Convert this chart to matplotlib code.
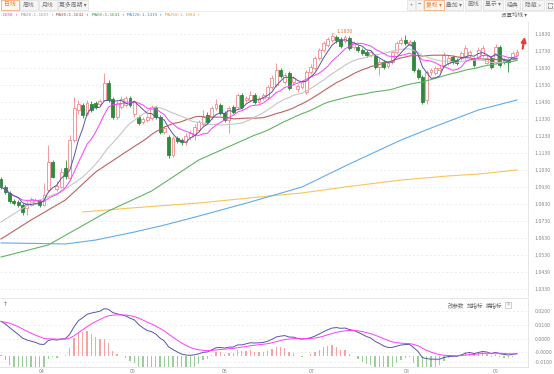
import matplotlib
matplotlib.use("Agg")
import matplotlib.pyplot as plt
from matplotlib.patches import Rectangle
from matplotlib.lines import Line2D
import numpy as np
import pandas as pd

plt.rcParams["font.family"] = ["Noto Sans CJK SC", "DejaVu Sans"]
plt.rcParams["axes.unicode_minus"] = False

# ── 日K数据 ──────────────────────────────────────
opens = [1.0977, 1.0930, 1.0895, 1.0848, 1.0842, 1.0824, 1.0806, 1.0824, 1.0836, 1.0848,
         1.0824, 1.0912, 1.1077, 1.0918, 1.0930, 1.1042, 1.0983, 1.1206, 1.1383, 1.1412,
         1.1359, 1.1418, 1.1424, 1.1418, 1.1442, 1.1542, 1.1448, 1.1342, 1.1401, 1.1412,
         1.1454, 1.1359, 1.1342, 1.1312, 1.1324, 1.1336, 1.1401, 1.1342, 1.1254, 1.1224,
         1.1118, 1.1218, 1.1206, 1.1195, 1.1224, 1.1236, 1.1265, 1.1301, 1.1354, 1.1342,
         1.1395, 1.1412, 1.1365, 1.1324, 1.1401, 1.1401, 1.1471, 1.1442, 1.1442, 1.1471,
         1.1430, 1.1454, 1.1459, 1.1518, 1.1530, 1.1618, 1.1548, 1.1601, 1.1548, 1.1506,
         1.1518, 1.1489, 1.1606, 1.1630, 1.1689, 1.1736, 1.1765, 1.1795, 1.1812, 1.1801,
         1.1789, 1.1806, 1.1754, 1.1754, 1.1736, 1.1724, 1.1706, 1.1701, 1.1636, 1.1665,
         1.1642, 1.1665, 1.1724, 1.1777, 1.1795, 1.1765, 1.1783, 1.1618, 1.1577, 1.1442,
         1.1606, 1.1601, 1.1618, 1.1648, 1.1659, 1.1695, 1.1677, 1.1689, 1.1695, 1.1706,
         1.1683, 1.1695, 1.1706, 1.1659, 1.1689, 1.1665, 1.1754, 1.1677, 1.1677, 1.1689,
         1.1706]
closes = [1.0930, 1.0901, 1.0848, 1.0836, 1.0824, 1.0783, 1.0836, 1.0859, 1.0854, 1.0824,
          1.0883, 1.1077, 1.0989, 1.0936, 1.1018, 1.0995, 1.1206, 1.1395, 1.1418, 1.1354,
          1.1424, 1.1383, 1.1401, 1.1436, 1.1542, 1.1442, 1.1342, 1.1424, 1.1448, 1.1454,
          1.1412, 1.1430, 1.1306, 1.1330, 1.1342, 1.1401, 1.1342, 1.1254, 1.1277, 1.1118,
          1.1218, 1.1201, 1.1195, 1.1230, 1.1248, 1.1283, 1.1312, 1.1342, 1.1312, 1.1395,
          1.1418, 1.1365, 1.1324, 1.1395, 1.1371, 1.1471, 1.1401, 1.1454, 1.1471, 1.1430,
          1.1454, 1.1471, 1.1518, 1.1571, 1.1618, 1.1583, 1.1589, 1.1512, 1.1571, 1.1524,
          1.1548, 1.1606, 1.1636, 1.1689, 1.1736, 1.1777, 1.1800, 1.1818, 1.1795, 1.1759,
          1.1812, 1.1748, 1.1777, 1.1736, 1.1718, 1.1706, 1.1724, 1.1636, 1.1665, 1.1636,
          1.1659, 1.1724, 1.1777, 1.1795, 1.1777, 1.1783, 1.1618, 1.1577, 1.1430, 1.1606,
          1.1618, 1.1630, 1.1630, 1.1706, 1.1689, 1.1665, 1.1659, 1.1718, 1.1748, 1.1724,
          1.1648, 1.1736, 1.1748, 1.1689, 1.1636, 1.1754, 1.1648, 1.1665, 1.1665, 1.1718,
          1.1724]
highs = [1.0989, 1.0942, 1.0906, 1.0859, 1.0854, 1.0836, 1.0848, 1.0871, 1.0865, 1.0859,
         1.0954, 1.1177, 1.1089, 1.0965, 1.1042, 1.1089, 1.1236, 1.1459, 1.1442, 1.1424,
         1.1442, 1.1436, 1.1436, 1.1448, 1.1601, 1.1559, 1.1459, 1.1436, 1.1465, 1.1465,
         1.1465, 1.1442, 1.1354, 1.1342, 1.1359, 1.1412, 1.1406, 1.1354, 1.1289, 1.1236,
         1.1230, 1.1230, 1.1218, 1.1248, 1.1265, 1.1301, 1.1324, 1.1383, 1.1371, 1.1406,
         1.1448, 1.1424, 1.1377, 1.1406, 1.1412, 1.1483, 1.1483, 1.1465, 1.1495, 1.1483,
         1.1465, 1.1483, 1.1530, 1.1589, 1.1659, 1.1630, 1.1601, 1.1612, 1.1583, 1.1536,
         1.1559, 1.1618, 1.1654, 1.1701, 1.1748, 1.1789, 1.1812, 1.1830, 1.1824, 1.1812,
         1.1824, 1.1818, 1.1789, 1.1765, 1.1748, 1.1736, 1.1736, 1.1712, 1.1689, 1.1677,
         1.1671, 1.1736, 1.1789, 1.1812, 1.1824, 1.1795, 1.1795, 1.1630, 1.1589, 1.1618,
         1.1630, 1.1642, 1.1648, 1.1724, 1.1706, 1.1706, 1.1689, 1.1730, 1.1765, 1.1736,
         1.1695, 1.1754, 1.1765, 1.1706, 1.1701, 1.1771, 1.1765, 1.1689, 1.1689, 1.1730,
         1.1742]
lows = [1.0918, 1.0889, 1.0836, 1.0824, 1.0812, 1.0765, 1.0765, 1.0818, 1.0830, 1.0812,
        1.0818, 1.0901, 1.0983, 1.0906, 1.0924, 1.0977, 1.0971, 1.1195, 1.1359, 1.1336,
        1.1348, 1.1371, 1.1389, 1.1412, 1.1436, 1.1430, 1.1330, 1.1330, 1.1389, 1.1401,
        1.1401, 1.1342, 1.1295, 1.1301, 1.1312, 1.1324, 1.1330, 1.1242, 1.1242, 1.1101,
        1.1107, 1.1189, 1.1177, 1.1177, 1.1206, 1.1206, 1.1254, 1.1289, 1.1301, 1.1330,
        1.1383, 1.1354, 1.1312, 1.1248, 1.1359, 1.1389, 1.1389, 1.1430, 1.1436, 1.1418,
        1.1424, 1.1442, 1.1448, 1.1506, 1.1518, 1.1571, 1.1536, 1.1501, 1.1536, 1.1489,
        1.1506, 1.1477, 1.1595, 1.1618, 1.1677, 1.1724, 1.1754, 1.1783, 1.1777, 1.1745,
        1.1777, 1.1736, 1.1742, 1.1724, 1.1706, 1.1695, 1.1695, 1.1624, 1.1589, 1.1624,
        1.1630, 1.1654, 1.1712, 1.1765, 1.1765, 1.1759, 1.1606, 1.1565, 1.1418, 1.1418,
        1.1589, 1.1589, 1.1606, 1.1636, 1.1648, 1.1654, 1.1648, 1.1677, 1.1683, 1.1695,
        1.1636, 1.1683, 1.1695, 1.1654, 1.1624, 1.1654, 1.1636, 1.1654, 1.1606, 1.1677,
        1.1701]

# 均线在窗口起点之前的部分 (图上读取: K线序号, 数值), 之后由收盘价计算
ma20_head_idx = [0, 7, 14]
ma20_head_val = [1.0724, 1.0836, 1.0901]
ma30_head_idx = [0, 7, 15, 22]
ma30_head_val = [1.0624, 1.0736, 1.0854, 1.1018]
ma60_head_idx = [0, 11, 25, 35, 46]
ma60_head_val = [1.0518, 1.0589, 1.0789, 1.0906, 1.1089]
# 长周期均线 (整段图上读取)
ma120_idx = [0, 8, 15, 22, 31, 38, 46, 58, 70, 81, 93, 100, 111, 120]
ma120_val = [1.0601, 1.0598, 1.0595, 1.0618, 1.0665, 1.0706, 1.0759, 1.0842, 1.0930, 1.1065,
             1.1206, 1.1277, 1.1383, 1.1442]
ma250_idx = [19, 30, 46, 60, 70, 80, 93, 104, 111, 120]
ma250_val = [1.0783, 1.0806, 1.0836, 1.0871, 1.0895, 1.0930, 1.0971, 1.0995, 1.1006, 1.1030]

# MACD 起始状态 (窗口之前的 EMA)
EMA12_START = 1.0905
EMA26_START = 1.0770
DEA_START = 0.0125

price_labels = ["1.1830", "1.1730", "1.1630", "1.1530", "1.1430", "1.1330", "1.1230", "1.1130",
                "1.1030", "1.0930", "1.0830", "1.0730", "1.0630", "1.0530", "1.0430", "1.0330"]
macd_labels = ["0.0200", "0.0100", "0.0000", "-0.0000", "-0.0100"]
macd_label_px = [310.7, 324.7, 338.7, 352.3, 362.0]
date_ticks = [9.5, 30.7, 52.1, 72.3, 94.4, 115.1]
date_labels = ["04", "05", "06", "07", "08", "09"]
ma_head = [(".1658 ↑", "#ee33ee"), ("MA20:1.1657 ↑", "#999999"), ("MA30:1.1642 ↑", "#b04848"),
           ("MA60:1.1641 ↑", "#3f9f3f"), ("MA120:1.1419 ↑", "#3a8fd8"), ("MA250:1.1084 ↑", "#f0a020")]

# 颜色
UP = "#f08a8a"
DOWN = "#2f8a3c"
C_MA5 = "#5656a6"
C_MA10 = "#ff3cff"
C_MA20 = "#c6c6c6"
C_MA30 = "#bb6262"
C_MA60 = "#62b462"
C_MA120 = "#62acea"
C_MA250 = "#f8c45c"
GRID = "#e8e8e8"
TXT = "#8a8a8a"

W, H = 554, 374
MACD_ZERO_PX = 356.0
MACD_PX_PER_UNIT = 2740.0

o = np.array(opens); c = np.array(closes); h = np.array(highs); l = np.array(lows)
n = len(c)
idx = np.arange(n)
cs = pd.Series(c)
ma5 = cs.rolling(5, min_periods=1).mean()
ma10 = cs.rolling(10, min_periods=1).mean()


def ma_line(win, head_idx, head_val):
    m = cs.rolling(win).mean()
    xs = list(head_idx) + list(range(win - 1, n))
    ys = list(head_val) + list(m.iloc[win - 1:])
    return xs, ys


ma20_x, ma20_y = ma_line(20, ma20_head_idx, ma20_head_val)
ma30_x, ma30_y = ma_line(30, ma30_head_idx, ma30_head_val)
ma60_x, ma60_y = ma_line(60, ma60_head_idx, ma60_head_val)

e12, e26, dea = EMA12_START, EMA26_START, DEA_START
dif_l, dea_l = [], []
for v in c:
    e12 += (v - e12) * 2 / 13
    e26 += (v - e26) * 2 / 27
    d = e12 - e26
    dea += (d - dea) * 2 / 10
    dif_l.append(d)
    dea_l.append(dea)
dif = np.array(dif_l); dea_a = np.array(dea_l)
hist = 2 * (dif - dea_a)


def rect(x0, y0, x1, y1):
    return [x0 / W, 1 - y1 / H, (x1 - x0) / W, (y1 - y0) / H]


fig = plt.figure(figsize=(W / 100, H / 100), dpi=100)
fig.patch.set_facecolor("white")

ax = fig.add_axes(rect(0, 22, 528, 296))
axm = fig.add_axes(rect(0, 298, 528, 367), sharex=ax)
XL = (-1 / 4.3, 527 / 4.3)

# ── K线 ──
up = c >= o
wick_c = np.where(up, UP, DOWN)
ax.vlines(idx, l, h, colors=wick_c, lw=0.6, zorder=2)
body_b = np.minimum(o, c)
body_h = np.maximum(np.abs(c - o), 0.00025)
ax.bar(idx, body_h, bottom=body_b, width=0.66, color=np.where(up, "white", DOWN),
       edgecolor=wick_c, lw=0.6, zorder=3)

ax.plot(ma250_idx, ma250_val, color=C_MA250, lw=0.8, zorder=4)
ax.plot(ma120_idx, ma120_val, color=C_MA120, lw=0.8, zorder=4)
ax.plot(ma60_x, ma60_y, color=C_MA60, lw=0.8, zorder=4)
ax.plot(ma30_x, ma30_y, color=C_MA30, lw=0.8, zorder=4)
ax.plot(ma20_x, ma20_y, color=C_MA20, lw=0.8, zorder=4)
ax.plot(idx, ma10, color=C_MA10, lw=0.7, zorder=5)
ax.plot(idx, ma5, color=C_MA5, lw=0.7, zorder=5)

pk = int(np.argmax(h))
ax.annotate(f"{h[pk]:.4f}", xy=(pk, h[pk]), xytext=(pk + 1.1, h[pk] + 0.0012),
            fontsize=3.8, color="#e8763c", va="center", ha="left",
            arrowprops=dict(arrowstyle="-", color="#e8763c", lw=0.5,
                            shrinkA=0, shrinkB=0), annotation_clip=False)
ax.annotate("", xy=(n + 0.9, c[-1] + 0.0105), xytext=(n + 0.2, c[-1] + 0.0003),
            arrowprops=dict(arrowstyle="-|>", color="#e83a3a", lw=1.5, mutation_scale=7),
            annotation_clip=False, zorder=6)

ax.set_xlim(*XL)
ax.set_ylim(1.2030 - 296 / 1700, 1.2030 - 22 / 1700)
ax.yaxis.tick_right()
ax.set_yticks([float(s) for s in price_labels])
ax.set_yticklabels(price_labels, fontsize=3.8, color=TXT)
ax.tick_params(axis="y", length=0, pad=5)
ax.tick_params(axis="x", length=0, labelbottom=False)
ax.grid(axis="y", color=GRID, lw=0.5, ls=(0, (3, 3)))
for s in ["top", "left", "bottom"]:
    ax.spines[s].set_visible(False)
ax.spines["right"].set_color("#e2e2e2")
ax.spines["right"].set_linewidth(0.6)

# ── MACD ──
axm.bar(idx, hist, width=0.32, color=np.where(hist >= 0, "#f3a3a3", "#9cce9c"), zorder=2)
axm.plot(idx, dif, color=C_MA5, lw=0.7, zorder=3)
axm.plot(idx, dea_a, color=C_MA10, lw=0.7, zorder=3)
axm.set_ylim((MACD_ZERO_PX - 367) / MACD_PX_PER_UNIT, (MACD_ZERO_PX - 298) / MACD_PX_PER_UNIT)
axm.yaxis.tick_right()
axm.set_yticks([(MACD_ZERO_PX - p) / MACD_PX_PER_UNIT for p in macd_label_px])
axm.set_yticklabels(macd_labels, fontsize=3.8, color=TXT)
axm.tick_params(axis="y", length=0, pad=5)
axm.set_xticks(date_ticks)
axm.set_xticklabels(date_labels, fontsize=3.8, color=TXT)
axm.tick_params(axis="x", length=0, pad=1.5)
axm.grid(axis="y", color=GRID, lw=0.5, ls=(0, (3, 3)))
axm.spines["left"].set_visible(False)
for s in ["top", "right", "bottom"]:
    axm.spines[s].set_color("#e2e2e2")
    axm.spines[s].set_linewidth(0.6)
axm.set_xlim(*XL)

# ── 顶部工具栏 ──
def button(x0, x1, label, fc="#f5f5f5", ec="#dedede", tc="#777777"):
    fig.patches.append(Rectangle((x0 / W, 1 - 10 / H), (x1 - x0) / W, 10 / H,
                                 transform=fig.transFigure, fc=fc, ec=ec, lw=0.5))
    if label:
        fig.text((x0 + x1) / 2 / W, 1 - 5 / H, label, fontsize=4.2, color=tc,
                 ha="center", va="center")


fig.add_artist(Line2D([0, 1], [1 - 10.5 / H] * 2, color="#e6e6e6", lw=0.5))
button(0.5, 19, "日线", fc="#fff7f0", ec="#f29b5c", tc="#f07b28")
button(20, 38, "周线")
button(39, 57, "月线")
button(58, 88, "更多周期 ▾")
button(407, 415, "+")
button(416, 423, "−")
button(424, 444, "复权 ▾", fc="#fff7f0", ec="#f29b5c", tc="#f07b28")
button(446, 463, "叠加 ▾")
button(465, 481, "画线")
button(483, 503, "显示 ▾")
button(505, 520, "经典")
button(522, 544, "隐藏 »")
button(546, 553.5, "")
# 全屏图标 (四角框, 已装字体都没有 ⛶)
for (cx, cy, dx, dy) in [(547.5, 2.5, 1, 1), (551.5, 2.5, -1, 1), (547.5, 7.5, 1, -1), (551.5, 7.5, -1, -1)]:
    fig.add_artist(Line2D([cx / W, cx / W, (cx + 1.5 * dx) / W],
                          [1 - (cy + 1.5 * dy) / H, 1 - cy / H, 1 - cy / H],
                          color="#777777", lw=0.5))

xpos = [0, 21, 56, 92, 127, 165]
for (s, col), xp in zip(ma_head, xpos):
    fig.text(xp / W, 1 - 15 / H, s, fontsize=3.1, color=col, ha="left", va="center",
             family=["DejaVu Sans Mono", "DejaVu Sans"])
fig.text(501 / W, 1 - 15 / H, "设置均线 ▾", fontsize=4.0, color="#666666", ha="left", va="center")

# ── MACD 面板抬头 ──
fig.text(3 / W, 1 - 305 / H, "↑", fontsize=4.2, color="#666666", ha="left", va="center",
         family=["DejaVu Sans"])
for xp, s in zip([448, 467, 486], ["改参数", "加指标", "换指标"]):
    fig.text(xp / W, 1 - 305 / H, s, fontsize=4.0, color="#666666", ha="left", va="center")
fig.patches.append(Rectangle((505 / W, 1 - 308 / H), 6 / W, 6 / H, transform=fig.transFigure,
                             fc="white", ec="#bbbbbb", lw=0.5))
fig.text(508 / W, 1 - 305 / H, "×", fontsize=3.8, color="#888888", ha="center", va="center")

fig.savefig("out.png", dpi=100, facecolor="white")
